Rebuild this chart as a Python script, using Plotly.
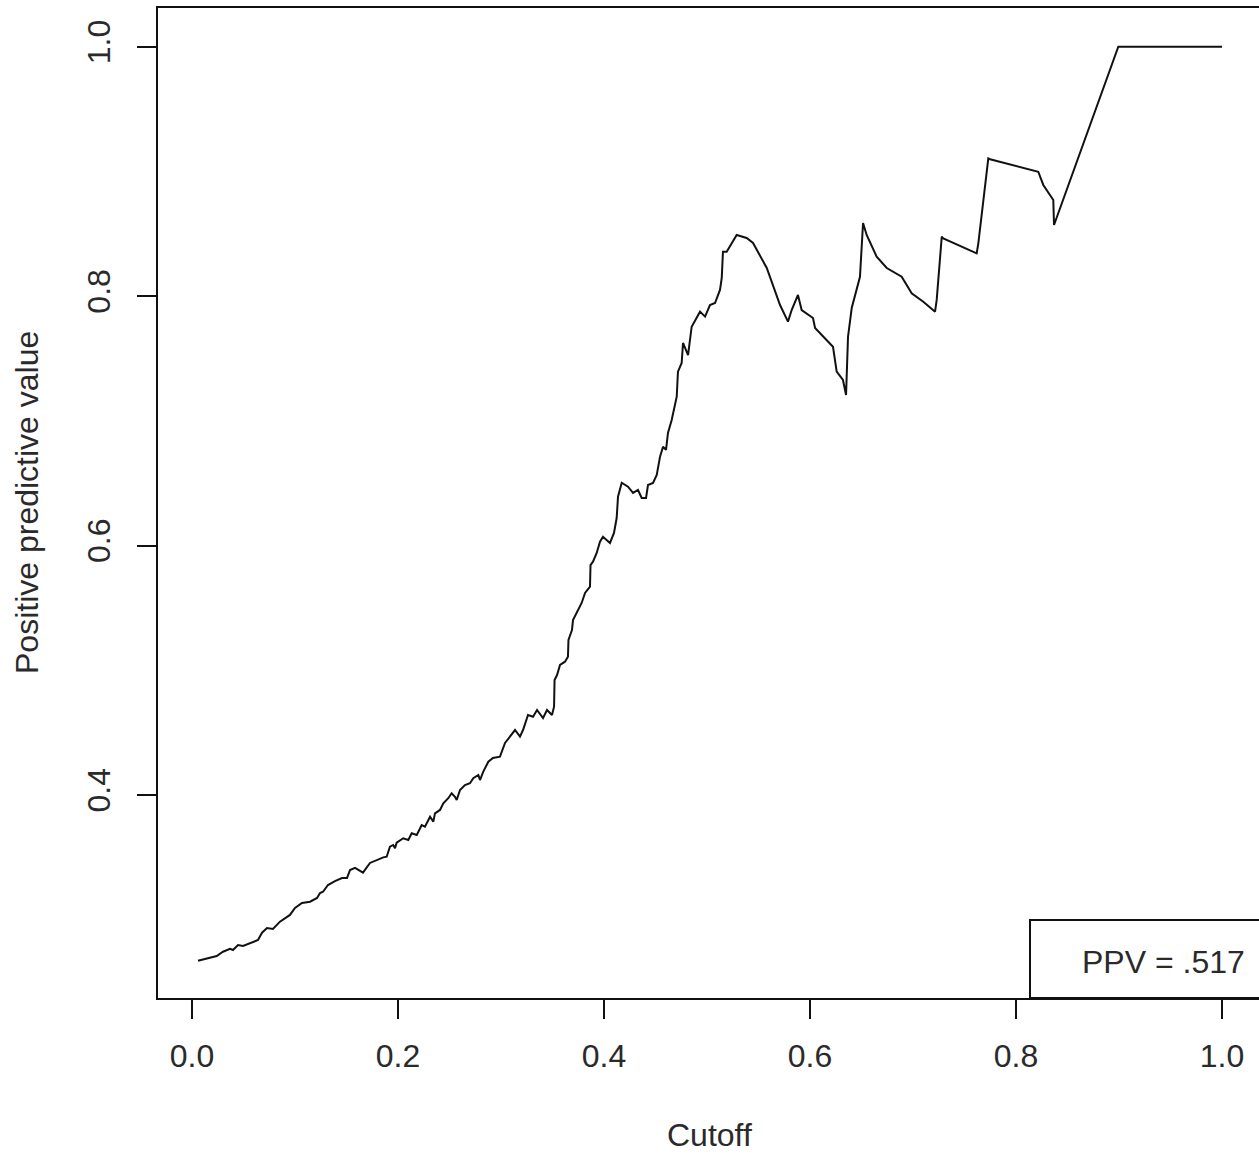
import plotly.graph_objects as go

# Cutoff values and the positive predictive value at each cutoff
cutoff = [
    0.0058, 0.0126, 0.0175, 0.0240, 0.0301, 0.0369, 0.0398, 0.0447, 0.0495, 0.0563,
    0.0641, 0.0680, 0.0728, 0.0786, 0.0854, 0.0951, 0.1000, 0.1068, 0.1146, 0.1214,
    0.1243, 0.1272, 0.1320, 0.1388, 0.1456, 0.1505, 0.1534, 0.1583, 0.1612, 0.1660,
    0.1728, 0.1793, 0.1857, 0.1890, 0.1922, 0.1954, 0.1971, 0.1987, 0.2051, 0.2100,
    0.2133, 0.2182, 0.2230, 0.2262, 0.2311, 0.2343, 0.2359, 0.2408, 0.2440, 0.2488,
    0.2521, 0.2553, 0.2570, 0.2602, 0.2650, 0.2699, 0.2731, 0.2780, 0.2796, 0.2828,
    0.2877, 0.2922, 0.2990, 0.3039, 0.3117, 0.3136, 0.3184, 0.3214, 0.3262, 0.3311,
    0.3350, 0.3408, 0.3447, 0.3495, 0.3515, 0.3520, 0.3544, 0.3573, 0.3621, 0.3650,
    0.3655, 0.3689, 0.3699, 0.3748, 0.3783, 0.3816, 0.3864, 0.3869, 0.3893, 0.3929,
    0.3961, 0.3990, 0.4058, 0.4097, 0.4123, 0.4136, 0.4172, 0.4233, 0.4282, 0.4330,
    0.4366, 0.4408, 0.4427, 0.4476, 0.4512, 0.4544, 0.4573, 0.4602, 0.4621, 0.4657,
    0.4706, 0.4718, 0.4754, 0.4767, 0.4816, 0.4851, 0.4932, 0.4981, 0.5029, 0.5078,
    0.5126, 0.5143, 0.5155, 0.5191, 0.5288, 0.5385, 0.5447, 0.5580, 0.5709, 0.5786,
    0.5822, 0.5883, 0.5919, 0.6029, 0.6049, 0.6223, 0.6259, 0.6320, 0.6350, 0.6369,
    0.6405, 0.6485, 0.6515, 0.6550, 0.6647, 0.6745, 0.6890, 0.6987, 0.7100, 0.7214,
    0.7230, 0.7279, 0.7294, 0.7618, 0.7634, 0.7731, 0.7748, 0.8216, 0.8265, 0.8362,
    0.8369, 0.8993, 1.0000,
]
ppv = [
    0.2671, 0.2685, 0.2701, 0.2709, 0.2743, 0.2767, 0.2757, 0.2797, 0.2789, 0.2813,
    0.2837, 0.2896, 0.2933, 0.2925, 0.2984, 0.3038, 0.3094, 0.3134, 0.3144, 0.3174,
    0.3214, 0.3224, 0.3278, 0.3310, 0.3334, 0.3334, 0.3398, 0.3415, 0.3398, 0.3377,
    0.3455, 0.3479, 0.3500, 0.3505, 0.3585, 0.3599, 0.3573, 0.3617, 0.3653, 0.3639,
    0.3693, 0.3679, 0.3759, 0.3746, 0.3826, 0.3786, 0.3853, 0.3880, 0.3933, 0.3974,
    0.4014, 0.3986, 0.3960, 0.4040, 0.4080, 0.4094, 0.4134, 0.4160, 0.4120, 0.4187,
    0.4267, 0.4297, 0.4307, 0.4417, 0.4497, 0.4521, 0.4468, 0.4521, 0.4642, 0.4628,
    0.4682, 0.4617, 0.4682, 0.4642, 0.4708, 0.4922, 0.4962, 0.5043, 0.5069, 0.5109,
    0.5243, 0.5323, 0.5403, 0.5484, 0.5540, 0.5620, 0.5670, 0.5844, 0.5871, 0.5941,
    0.6031, 0.6071, 0.6021, 0.6101, 0.6221, 0.6392, 0.6504, 0.6472, 0.6422, 0.6446,
    0.6382, 0.6382, 0.6486, 0.6502, 0.6566, 0.6713, 0.6793, 0.6767, 0.6903, 0.7007,
    0.7194, 0.7395, 0.7464, 0.7625, 0.7528, 0.7755, 0.7876, 0.7836, 0.7929, 0.7945,
    0.8050, 0.8146, 0.8357, 0.8357, 0.8491, 0.8467, 0.8427, 0.8226, 0.7929, 0.7796,
    0.7889, 0.8010, 0.7889, 0.7825, 0.7745, 0.7595, 0.7395, 0.7328, 0.7208, 0.7675,
    0.7905, 0.8156, 0.8587, 0.8491, 0.8317, 0.8226, 0.8156, 0.8023, 0.7956, 0.7876,
    0.7970, 0.8477, 0.8464, 0.8344, 0.8424, 0.9106, 0.9098, 0.8998, 0.8892, 0.8771,
    0.8571, 1.0000, 1.0000,
]

x_ticks = [0.0, 0.2, 0.4, 0.6, 0.8, 1.0]
y_ticks = [0.4, 0.6, 0.8, 1.0]
legend_text = "PPV = .517"

FONT = "Liberation Sans, Arial, sans-serif"
INK = "#111111"
TXT = "#2a2a2a"
FS = 32

fig = go.Figure()
fig.add_trace(go.Scatter(
    x=cutoff, y=ppv, mode="lines",
    line=dict(color=INK, width=2),
    showlegend=False, hoverinfo="x+y",
))

axis_common = dict(
    showgrid=False, zeroline=False,
    showline=True, linecolor=INK, linewidth=2,
    ticks="outside", ticklen=19, tickwidth=2, tickcolor=INK,
    tickfont=dict(family=FONT, size=FS, color=TXT),
)

fig.update_xaxes(
    **axis_common,
    range=[-0.0330, 1.0359],
    tickvals=x_ticks, ticktext=[f"{v:.1f}" for v in x_ticks],
    mirror=True, ticklabelstandoff=10,
)
fig.update_yaxes(
    **axis_common,
    range=[0.2372, 1.0311],
    tickvals=y_ticks, ticktext=[f"{v:.1f}" for v in y_ticks],
    tickangle=-90, ticklabelstandoff=14,
)

# axis titles
fig.add_annotation(
    text="Cutoff", xref="paper", yref="paper", x=0.501, y=0,
    yshift=-137, xanchor="center", yanchor="middle", showarrow=False,
    font=dict(family=FONT, size=FS, color=TXT),
)
fig.add_annotation(
    text="Positive predictive value", xref="paper", yref="paper",
    x=0, y=0.5, xshift=-131, textangle=-90,
    xanchor="center", yanchor="middle", showarrow=False,
    font=dict(family=FONT, size=FS, color=TXT),
)

# legend box in the bottom-right corner
fig.add_shape(
    type="rect", xref="paper", yref="paper",
    x0=0.792, x1=1.01, y0=0, y1=0.0788,
    line=dict(color=INK, width=2), fillcolor="white", layer="above",
)
fig.add_annotation(
    text=legend_text, xref="paper", yref="paper", x=0.989, y=0.0364,
    xanchor="right", yanchor="middle", showarrow=False,
    font=dict(family=FONT, size=FS, color=TXT),
)

fig.update_layout(
    width=1259, height=1154,
    margin=dict(l=158, r=0, t=8, b=156),
    paper_bgcolor="white", plot_bgcolor="white",
)

fig.write_html("out.html")
